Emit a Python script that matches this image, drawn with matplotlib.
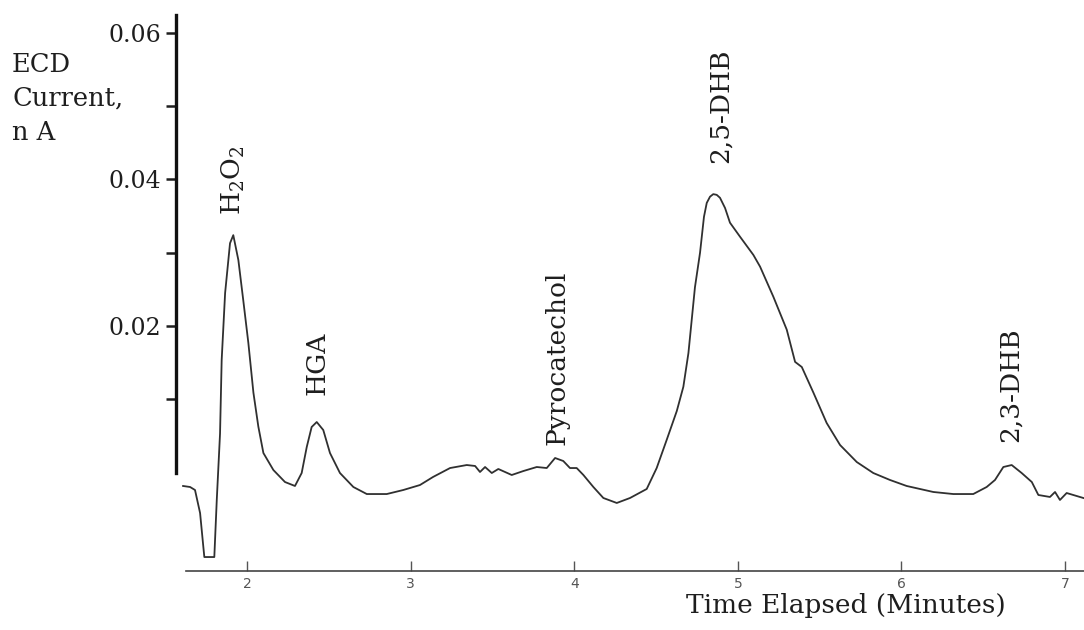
import matplotlib
matplotlib.use("Agg")
import matplotlib.pyplot as plt

# chromatogram trace (time in minutes, current in nA)
time_min = [1.609, 1.652, 1.682, 1.713, 1.733, 1.739, 1.800, 1.815, 1.835, 1.845,
            1.866, 1.896, 1.916, 1.947, 1.977, 2.008, 2.039, 2.069, 2.100, 2.161,
            2.232, 2.293, 2.334, 2.365, 2.395, 2.426, 2.466, 2.507, 2.568, 2.650,
            2.732, 2.854, 2.955, 3.057, 3.137, 3.241, 3.343, 3.394, 3.424, 3.455,
            3.496, 3.536, 3.618, 3.689, 3.771, 3.832, 3.883, 3.933, 3.974, 4.015,
            4.056, 4.117, 4.178, 4.260, 4.341, 4.443, 4.504, 4.565, 4.627, 4.667,
            4.698, 4.718, 4.738, 4.769, 4.793, 4.810, 4.830, 4.850, 4.871, 4.891,
            4.922, 4.952, 5.013, 5.095, 5.136, 5.217, 5.299, 5.350, 5.391, 5.462,
            5.543, 5.625, 5.727, 5.828, 5.930, 6.032, 6.195, 6.317, 6.439, 6.521,
            6.572, 6.623, 6.674, 6.735, 6.797, 6.837, 6.908, 6.939, 6.969, 7.010,
            7.112]
current_milli = [-1.84, -1.98, -2.39, -5.53, -10.17, -11.54, -11.54, -3.75, 5.32, 15.36,
                 24.5, 31.3, 32.4, 29.0, 23.5, 17.7, 10.9, 6.28, 2.66, 0.34,
                 -1.30, -1.84, -0.07, 3.48, 6.21, 6.89, 5.8, 2.66, -0.07, -1.98,
                 -2.94, -2.94, -2.39, -1.71, -0.61, 0.61, 1.02, 0.89, 0.07, 0.75,
                 -0.07, 0.48, -0.34, 0.20, 0.75, 0.61, 1.98, 1.57, 0.61, 0.61,
                 -0.34, -1.98, -3.48, -4.16, -3.48, -2.25, 0.61, 4.44, 8.40, 11.7,
                 16.3, 20.8, 25.3, 30.0, 34.9, 36.8, 37.65, 38.0, 37.9, 37.5,
                 36.1, 34.1, 32.2, 29.7, 28.1, 24.0, 19.5, 15.1, 14.4, 10.9,
                 6.76, 3.75, 1.43, -0.07, -1.02, -1.84, -2.66, -2.94, -2.94, -1.98,
                 -1.02, 0.75, 1.02, -0.07, -1.30, -3.07, -3.34, -2.66, -3.75, -2.80,
                 -3.48]
current_nA = [c / 1000.0 for c in current_milli]

# peak labels
peak_names = ["H$_2$O$_2$", "HGA", "Pyrocatechol", "2,5-DHB", "2,3-DHB"]
peak_times = [1.914, 2.428, 3.895, 4.891, 6.664]
peak_label_base = [0.0352, 0.0106, 0.0038, 0.0423, 0.0042]

x_ticks = [2, 3, 4, 5, 6, 7]
y_ticks = [0.01, 0.02, 0.03, 0.04, 0.05, 0.06]
y_tick_labels = ["", "0.02", "", "0.04", "", "0.06"]

plt.rcParams["font.family"] = ["DejaVu Serif"]
plt.rcParams["mathtext.fontset"] = "dejavuserif"

ink = "#1e1e1e"

fig = plt.figure(figsize=(10.84, 6.3), dpi=100)
ax = fig.add_axes([0, 0, 1, 1])
ax.set_xlim(0.490, 7.116)
ax.set_ylim(-0.0215, 0.0645)

ax.plot(time_min, current_nA, color="#303030", lw=1.3)

# axes drawn like the original: thick y axis, thin time axis
ax.spines["top"].set_visible(False)
ax.spines["right"].set_visible(False)
ax.spines["left"].set_position(("data", 1.566))
ax.spines["left"].set_bounds(0.0, 0.0625)
ax.spines["left"].set_linewidth(2.4)
ax.spines["left"].set_color("#111111")
ax.spines["bottom"].set_position(("data", -0.01345))
ax.spines["bottom"].set_bounds(1.627, 7.2)
ax.spines["bottom"].set_linewidth(1.2)
ax.spines["bottom"].set_color("#444444")

ax.set_yticks(y_ticks)
ax.set_yticklabels(y_tick_labels)
ax.tick_params(axis="y", direction="out", length=7, width=1.8, pad=4,
               labelsize=17, colors=ink)
ax.set_xticks(x_ticks)
ax.set_xticklabels([str(t) for t in x_ticks])
ax.tick_params(axis="x", direction="in", length=7, width=1.0, pad=4,
               labelsize=10, colors="#555555")
for lab in ax.get_xticklabels():
    lab.set_family("DejaVu Sans")

for name, t, base in zip(peak_names, peak_times, peak_label_base):
    ax.text(t, base, name, rotation=90, ha="center", va="bottom",
            fontsize=19, color=ink)

ax.text(5.661, -0.0164, "Time Elapsed (Minutes)", ha="center", va="top",
        fontsize=19, color=ink)

fig.text(12 / 1084, 1 - 52 / 630, "ECD\nCurrent,\nn A", ha="left", va="top",
         fontsize=18.5, color=ink, linespacing=1.45)

fig.savefig("out.png", dpi=100, facecolor="white")
